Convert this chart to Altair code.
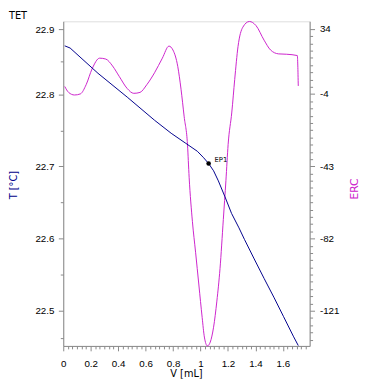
import altair as alt
import pandas as pd

# ---- data ----
V_T = [0.011, 0.05, 0.253, 0.466, 0.665, 0.786, 0.893, 0.977, 1.023, 1.059, 1.095,
       1.130, 1.178, 1.226, 1.280, 1.320, 1.391, 1.463, 1.534, 1.605, 1.676, 1.712]
T_VALS = [22.867, 22.864, 22.829, 22.796, 22.764, 22.746, 22.732, 22.721, 22.712, 22.704, 22.694,
          22.680, 22.658, 22.635, 22.615, 22.599, 22.572, 22.545, 22.519, 22.492, 22.465, 22.452]

V_E = [0.011, 0.039, 0.082, 0.125, 0.167, 0.21, 0.265, 0.31, 0.359, 0.409, 0.466, 0.514,
       0.559, 0.609, 0.665, 0.722, 0.770, 0.799, 0.834, 0.858, 0.881, 0.905, 0.917, 0.941,
       0.964, 0.988, 1.012, 1.028, 1.050, 1.071, 1.095, 1.119, 1.142, 1.166, 1.185, 1.201,
       1.228, 1.249, 1.273, 1.308, 1.356, 1.404, 1.463, 1.510, 1.569, 1.628, 1.705, 1.712]
E_VALS = [0.1, -3.1, -4.5, -3.9, 1.1, 9.6, 15.4, 14.9, 11.2, 5.4, -1.0, -3.6,
          -3.1, 1.1, 7.5, 15.4, 21.9, 19.8, 11.0, -1.4, -16.3, -31.3, -48.9, -72.9,
          -89.4, -107.1, -124.7, -135.2, -140.0, -137.9, -129.9, -115.8, -98.2, -71.8, -50.7, -31.3,
          -13.7, 3.9, 21.6, 32.1, 35.2, 33.0, 25.1, 19.8, 17.7, 17.5, 16.8, 0.4]

EP_V = [1.059]
EP_T = [22.704]
EP_LABEL = ["EP1"]

T_MAJOR = [22.5, 22.6, 22.7, 22.8, 22.89]
T_MINOR = [22.4625, 22.55, 22.65, 22.75, 22.845]
E_MAJOR = [-121, -82, -43, -4, 31.25]

# ---- tables ----
df_t = pd.DataFrame({"V": V_T, "T": T_VALS})
df_e = pd.DataFrame({"V": V_E, "E": E_VALS})
df_ep = pd.DataFrame({"V": EP_V, "T": EP_T, "lab": EP_LABEL})

x_vals = [round(k / 30, 4) for k in range(54)]
e_minor = [round(-4 + k * 35.25 / 9, 3) for k in range(1, 9)] + \
          [round(-4 - 3.9 * k, 3) for k in range(1, 35) if k % 10 != 0]

FONT = "DejaVu Sans"
NAVY = "#00008c"
MAG = "#cc22cc"

x_scale = alt.Scale(domain=[0, 1.795], nice=False, zero=False)
t_scale = alt.Scale(domain=[22.4515, 22.901], nice=False, zero=False)
e_scale = alt.Scale(domain=[-140.0, 35.3], nice=False, zero=False)

x_axis = alt.Axis(
    values=x_vals,
    labelExpr="abs(datum.value*5 - round(datum.value*5)) < 0.001 ? format(datum.value, '.1~f') : ''",
    tickSize={"condition": {"test": "abs(datum.value*5 - round(datum.value*5)) < 0.001", "value": 5}, "value": 3},
    labelPadding=8, labelFlush=False, labelOverlap=False,
    title="V [mL]", titleFont=FONT, titleFontSize=10, titleFontWeight="normal", titleColor="black",
    titleX=125.5, titleY=28.5, titleAlign="center", titleBaseline="middle", grid=False,
)

t_axis = alt.Axis(
    orient="left",
    values=T_MAJOR + T_MINOR,
    labelExpr="datum.value > 22.88 ? '22.9' : (abs(datum.value*10 - round(datum.value*10)) < 0.001 ? format(datum.value, '.1f') : '')",
    tickSize={"condition": {"test": "indexof([22.5,22.6,22.7,22.8,22.89], datum.value) >= 0", "value": 5}, "value": 3},
    labelPadding=4.5, labelOverlap=False, labelFlush=False,
    title="T [°C]", titleFont=FONT, titleFontSize=10, titleFontWeight="normal", titleColor=NAVY,
    titleAngle=270, titleX=-51, titleY=167, titleAlign="center", titleBaseline="middle", grid=False,
)

e_axis = alt.Axis(
    orient="right",
    values=E_MAJOR + e_minor,
    labelExpr="datum.value > 30 ? '34' : (indexof([-121,-82,-43,-4], datum.value) >= 0 ? '' + datum.value : '')",
    tickSize={"condition": {"test": "indexof([-121,-82,-43,-4,31.25], datum.value) >= 0", "value": 5}, "value": 3},
    labelPadding=5, labelOverlap=False, labelFlush=False,
    title="ERC", titleFont=FONT, titleFontSize=11, titleFontWeight="normal", titleColor=MAG,
    titleAngle=270, titleX=46, titleY=171, titleAlign="center", titleBaseline="middle", grid=False,
)

x_enc = alt.X("V:Q", scale=x_scale, axis=x_axis)
t_enc = alt.Y("T:Q", scale=t_scale, axis=t_axis)

t_line = alt.Chart(df_t).mark_line(color=NAVY, strokeWidth=1).encode(x=x_enc, y=t_enc, order="V:Q")
ep_pt = alt.Chart(df_ep).mark_point(filled=True, color="black", size=22, opacity=1).encode(x=x_enc, y=t_enc)
ep_txt = alt.Chart(df_ep).mark_text(align="left", baseline="middle", dx=6, dy=-4, font=FONT,
                                    fontSize=7, color="black").encode(x=x_enc, y=t_enc, text="lab:N")
tet = alt.Chart(pd.DataFrame({"t": ["TET"]})).mark_text(
    align="left", baseline="middle", font=FONT, fontSize=10, color="black"
).encode(x=alt.value(-55.5), y=alt.value(-5.0), text="t:N")

t_layer = alt.layer(t_line, ep_pt, ep_txt, tet)

e_line = alt.Chart(df_e).mark_line(color=MAG, strokeWidth=1, interpolate="monotone").encode(
    x=x_enc, y=alt.Y("E:Q", scale=e_scale, axis=e_axis), order="V:Q"
)

chart = alt.layer(e_line, t_layer).resolve_scale(y="independent").properties(
    width=252, height=332,
    padding={"left": 56.5, "top": 9.3, "right": 52.5, "bottom": 37.7},
    autosize=alt.AutoSizeParams(type="none"),
).configure_view(stroke="black", strokeWidth=1).configure_axis(
    domainColor="black", tickColor="black", labelColor="black", labelFont=FONT, labelFontSize=9,
    domainWidth=1, tickWidth=1,
).configure(background="white")

chart.save("out.html", embed_options={"renderer": "svg", "actions": False})
